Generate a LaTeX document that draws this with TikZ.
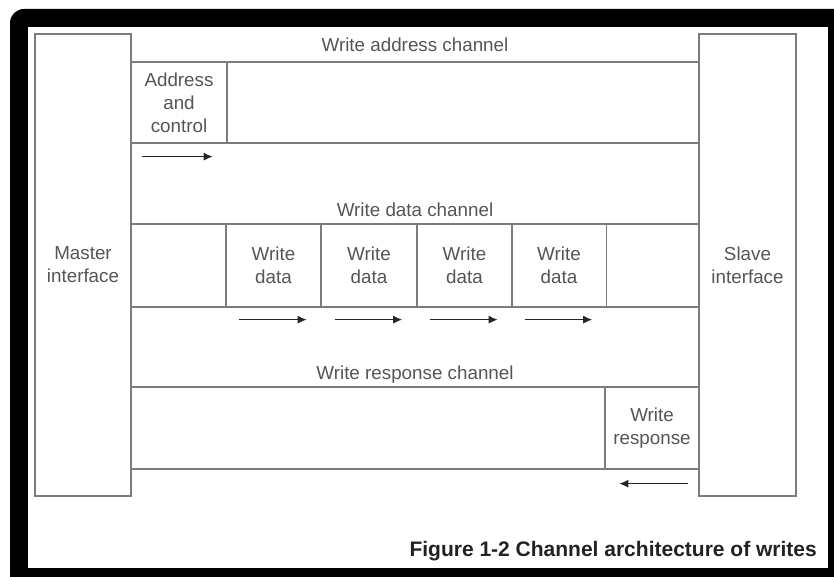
\documentclass[tikz,border=0pt]{standalone}
\usepackage{fontspec}
\setmainfont{Liberation Sans}
\usetikzlibrary{arrows.meta}
\definecolor{ln}{HTML}{7C7C7C}
\definecolor{tx}{HTML}{555555}
\definecolor{cap}{HTML}{222222}
\begin{document}
\begin{tikzpicture}[x=1pt,y=-1pt,
  lbl/.style={font=\fontsize{18.8}{23}\selectfont, text=tx, align=center},
  cell/.style={draw=ln, line width=1.3pt, inner sep=0pt, lbl},
  chan/.style={draw=ln, line width=1.3pt},
  flow/.style={draw=black!85, line width=1.1pt, -{Latex[length=9pt,width=8pt]}}
  ]
\useasboundingbox (0,0) rectangle (834,577);
\clip (0,0) rectangle (834,577);
% frame
\fill[black, rounded corners=14pt] (10,9) rectangle (860,600);
\fill[white] (28,27) rectangle (828,568);

% interfaces
\node[cell, minimum width=96, minimum height=462] (master) at (83,265) {Master\\interface};
\node[cell, minimum width=97, minimum height=462] (slave) at (747.5,265) {Slave\\interface};

% write address channel
\coordinate (a1) at (131,62);
\coordinate (a2) at (131,143);
\draw[chan] (a1) -- (a1 -| slave.west);
\draw[chan] (a2) -- (a2 -| slave.west);
\node[lbl, anchor=base] (lab1) at (415,52) {Write address channel};
\node[cell, minimum width=96, minimum height=81] (ac) at (179,102.5) {Address\\and\\control};
\draw[flow] ([xshift=12pt,yshift=-13pt]ac.south west) -- ([xshift=-15pt,yshift=-13pt]ac.south east);

% write data channel
\coordinate (d1) at (131,224);
\coordinate (d2) at (131,307);
\draw[chan] (d1) -- (d1 -| slave.west);
\draw[chan] (d2) -- (d2 -| slave.west);
\node[lbl, anchor=base] (lab2) at (415,217) {Write data channel};
\foreach \i/\x in {1/273.5, 2/369, 3/464.5, 4/559} {
  \node[cell, minimum width=95, minimum height=83] (wd\i) at (\x,265.5) {Write\\data};
  \draw[flow] ([xshift=14pt,yshift=-12pt]wd\i.south west) -- ([xshift=-15pt,yshift=-12pt]wd\i.south east);
}

% write response channel
\coordinate (r1) at (131,387);
\coordinate (r2) at (131,469);
\draw[chan] (r1) -- (r1 -| slave.west);
\draw[chan] (r2) -- (r2 -| slave.west);
\node[lbl, anchor=base] (lab3) at (415,379) {Write response channel};
\node[cell, minimum width=94, minimum height=82] (wr) at (652,428) {Write\\response};
\draw[flow] ([xshift=-12pt,yshift=-14pt]wr.south east) -- ([xshift=15pt,yshift=-14pt]wr.south west);

% caption
\node[anchor=base east, inner sep=0pt, font=\fontsize{21}{25}\selectfont\bfseries, text=cap] (caption) at (817,556) {Figure 1-2 Channel architecture of writes};
\end{tikzpicture}
\end{document}
